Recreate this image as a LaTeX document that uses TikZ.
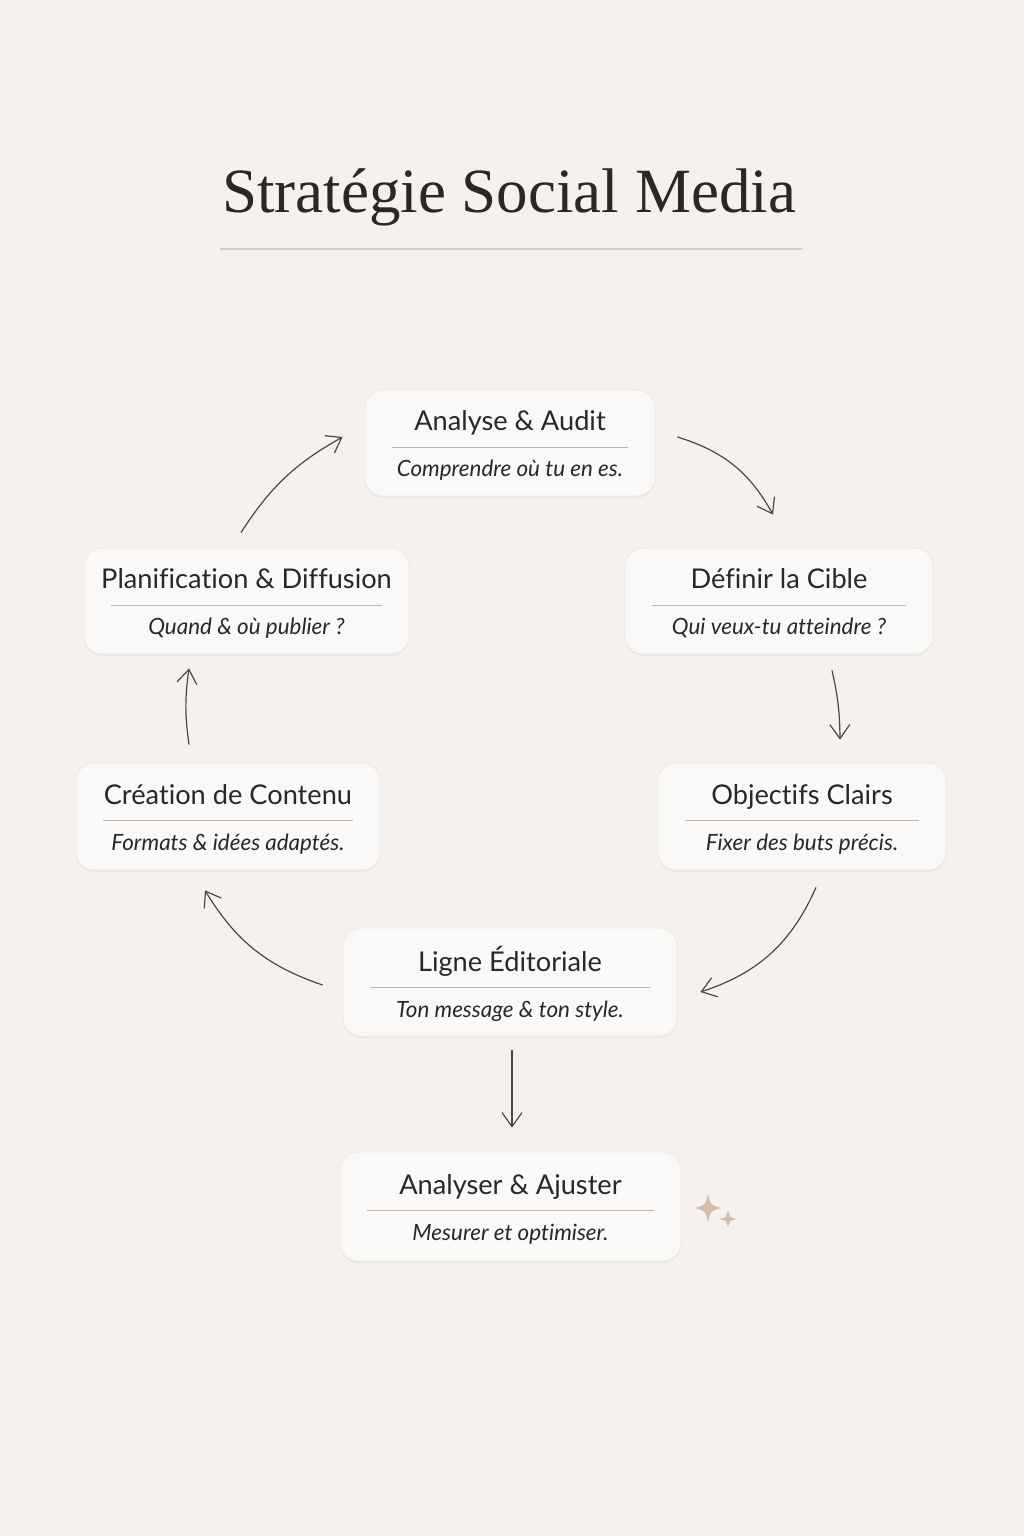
\documentclass[tikz,border=0pt]{standalone}
\usepackage{fontspec}
\usepackage{xcolor}
\usetikzlibrary{arrows.meta, positioning, calc, shadows}
\newfontfamily\cardfont[Ligatures=NoCommon]{Lato}
\newfontfamily\titlefont{Liberation Serif}
\definecolor{smbg}{HTML}{F5F1EE}
\definecolor{smcard}{HTML}{FBF9F7}
\definecolor{smedge}{HTML}{EEE8E3}
\definecolor{smink}{HTML}{2A2826}
\definecolor{smrule}{HTML}{BDB5AF}
\definecolor{smspark}{HTML}{D2BEAF}

% one card: title, rule, italic line
\newcommand{\cardtext}[3]{%
  \rule{0pt}{6pt}\\[-5.5pt]
  {\fontsize{13.6}{15}\selectfont #2}\\[-3.5pt]
  {\color{smrule}\rule{\dimexpr #1-27pt\relax}{0.5pt}}\\[2.5pt]
  {\fontsize{11.2}{13}\selectfont\itshape #3}}

% four-point star
\newcommand{\sparkle}[3]{%
  \fill[smspark] (#1+#3,#2) .. controls (#1+0.18*#3,#2+0.18*#3) .. (#1,#2+#3)
    .. controls (#1-0.18*#3,#2+0.18*#3) .. (#1-#3,#2)
    .. controls (#1-0.18*#3,#2-0.18*#3) .. (#1,#2-#3)
    .. controls (#1+0.18*#3,#2-0.18*#3) .. cycle;}

\begin{document}
\begin{tikzpicture}[
    x=0.5pt, y=-0.5pt,
    card/.style={rectangle, rounded corners=9pt, fill=smcard, draw=smedge, line width=0.4pt,
      align=center, text=smink, font=\cardfont, inner sep=0pt,
      drop shadow={shadow xshift=0pt, shadow yshift=-1pt, opacity=0.04, fill=black}},
    arrow/.style={-{Straight Barb[length=7pt, width=10pt]}, line width=0.6pt, draw=smink!85}
]
\fill[smbg] (0,0) rectangle (1024,1536);
\useasboundingbox (0,0) rectangle (1024,1536);

% Title
\node[text=smink, font=\titlefont\fontsize{31.5}{34}\selectfont] (title) at (509,197) {Stratégie Social Media};
\draw[smrule!70, line width=0.6pt] (220,249) -- (802,249);

% Cards
\node[card, minimum width=145pt, minimum height=53pt] (audit) at (510,443)
  {\cardtext{145pt}{Analyse \& Audit}{Comprendre où tu en es.}};
\node[card, minimum width=154pt, minimum height=53pt] (cible) at (779,601)
  {\cardtext{154pt}{Définir la Cible}{Qui veux-tu atteindre ?}};
\node[card, minimum width=144pt, minimum height=53.5pt] (objectifs) at (802,816.5)
  {\cardtext{144pt}{Objectifs Clairs}{Fixer des buts précis.}};
\node[card, minimum width=167pt, minimum height=54pt] (ligne) at (510,982)
  {\cardtext{167pt}{Ligne Éditoriale}{Ton message \& ton style.}};
\node[card, minimum width=152pt, minimum height=53.5pt] (creation) at (228,816.5)
  {\cardtext{152pt}{Création de Contenu}{Formats \& idées adaptés.}};
\node[card, minimum width=162.5pt, minimum height=53pt] (planif) at (246.5,601)
  {\cardtext{162.5pt}{Planification \& Diffusion}{Quand \& où publier ?}};
\node[card, minimum width=170.5pt, minimum height=54.5pt] (ajuster) at (510.5,1206.5)
  {\cardtext{170.5pt}{Analyser \& Ajuster}{Mesurer et optimiser.}};

% Connections
\draw[arrow] ($(audit.east)+(22,-6)$) to[bend left=22] ($(cible.north)+(-6,-33)$);
\draw[arrow] ($(cible.south)+(53,16)$) to[bend left=6] ($(objectifs.north)+(38,-23)$);
\draw[arrow] ($(objectifs.south)+(14,17)$) to[bend left=24] ($(ligne.east)+(23,10)$);
\draw[arrow] ($(ligne.west)+(-20,3)$) to[bend left=20] ($(creation.south)+(-23,20)$);
\draw[arrow] ($(creation.north)+(-39,-18)$) to[bend left=8] ($(planif.south)+(-57.5,14)$);
\draw[arrow] ($(planif.north)+(-5.5,-15)$) to[bend left=14] ($(audit.west)+(-22,-6)$);
\draw[arrow] ($(ligne.south)+(2,14)$) -- ($(ajuster.north)+(1.5,-24)$);

% Sparkles
\sparkle{708}{1208}{14}
\sparkle{728}{1219}{9}
\end{tikzpicture}
\end{document}
